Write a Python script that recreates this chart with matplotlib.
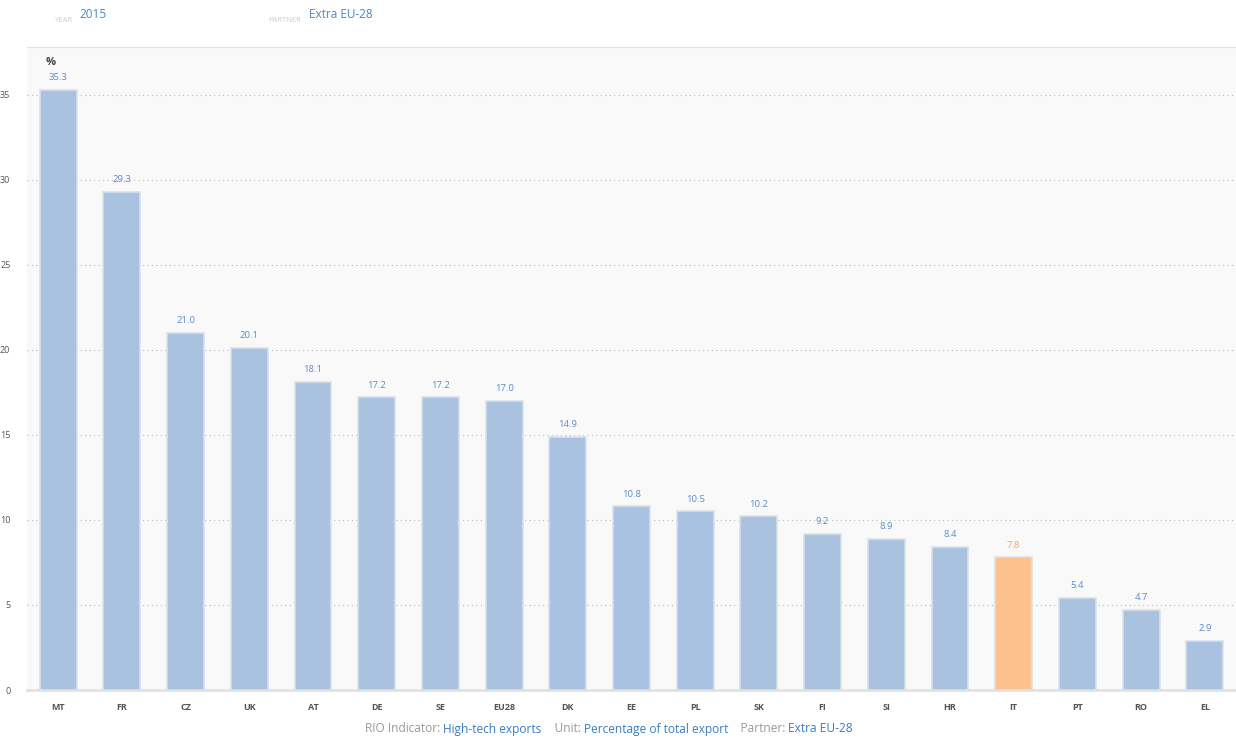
import matplotlib.pyplot as plt

plt.rcParams['font.family'] = ['Open Sans', 'DejaVu Sans']

countries = ['MT', 'FR', 'CZ', 'UK', 'AT', 'DE', 'SE', 'EU28', 'DK', 'EE',
             'PL', 'SK', 'FI', 'SI', 'HR', 'IT', 'PT', 'RO', 'EL']
values = [35.3, 29.3, 21.0, 20.1, 18.1, 17.2, 17.2, 17.0, 14.9, 10.8,
          10.5, 10.2, 9.2, 8.9, 8.4, 7.8, 5.4, 4.7, 2.9]
highlight = 'IT'

blue = '#a8c2df'
orange = '#fdc18e'
label_blue = '#5b8ccb'

fig = plt.figure(figsize=(12.36, 7.38), dpi=100)
ax = fig.add_axes([27 / 1236, 48 / 738, 1 - 27 / 1236, 643 / 738])
ax.set_facecolor('#f9f9f9')

colors = [orange if c == highlight else blue for c in countries]
bars = ax.bar(range(len(countries)), values, width=0.58, color=colors,
              edgecolor='#d9e1ea', linewidth=1.2, zorder=3)

for i, (b, v) in enumerate(zip(bars, values)):
    col = '#f5a15c' if countries[i] == highlight else label_blue
    ax.text(b.get_x() + b.get_width() / 2, v + 0.45, f'{v:.1f}', ha='center',
            va='bottom', fontsize=6.8, color=col)

ax.set_xlim(-0.49, len(countries) - 0.51)
ax.set_ylim(0, 37.8)
ax.set_yticks(range(0, 36, 5))
ax.yaxis.grid(True, linestyle=(0, (1, 3)), color='#bbbbbb', linewidth=0.8, zorder=0)
ax.set_xticks(range(len(countries)))
ax.set_xticklabels(countries, fontsize=6.5, color='#555555', fontweight='bold')
ax.tick_params(axis='y', labelsize=6.5, labelcolor='#555555', length=0, pad=12)
ax.tick_params(axis='x', length=0, pad=9)

for s in ['left', 'right']:
    ax.spines[s].set_visible(False)
ax.spines['top'].set_color('#e2e2e2')
ax.spines['bottom'].set_color('#e2e2e2')
ax.spines['bottom'].set_linewidth(2)

ax.text(0.015, 0.985, '%', transform=ax.transAxes, fontsize=8, color='#444444',
        fontweight='bold', va='top')

# header
fig.text(55 / 1236, 1 - 21 / 738, 'YEAR', fontsize=5.5, color='#cccccc', va='center')
fig.text(79 / 1236, 1 - 14 / 738, '2015', fontsize=8.5, color='#4a86c5', va='center')
fig.text(268 / 1236, 1 - 21 / 738, 'PARTNER', fontsize=5.5, color='#cccccc', va='center')
fig.text(309 / 1236, 1 - 14 / 738, 'Extra EU-28', fontsize=8.5, color='#4a86c5', va='center')

# footer
parts = [('RIO Indicator: ', '#999999'), ('High-tech exports', '#3a7cc0'),
         ('    Unit: ', '#999999'), ('Percentage of total export', '#3a7cc0'),
         ('    Partner: ', '#999999'), ('Extra EU-28', '#3a7cc0')]
fig.canvas.draw()
r = fig.canvas.get_renderer()
x = 365 / 1236
for t, c in parts:
    txt = fig.text(x, 1 - 729 / 738, t, fontsize=8.6, color=c, va='center')
    x += txt.get_window_extent(r).width / fig.bbox.width

fig.savefig('out.png', dpi=100)
